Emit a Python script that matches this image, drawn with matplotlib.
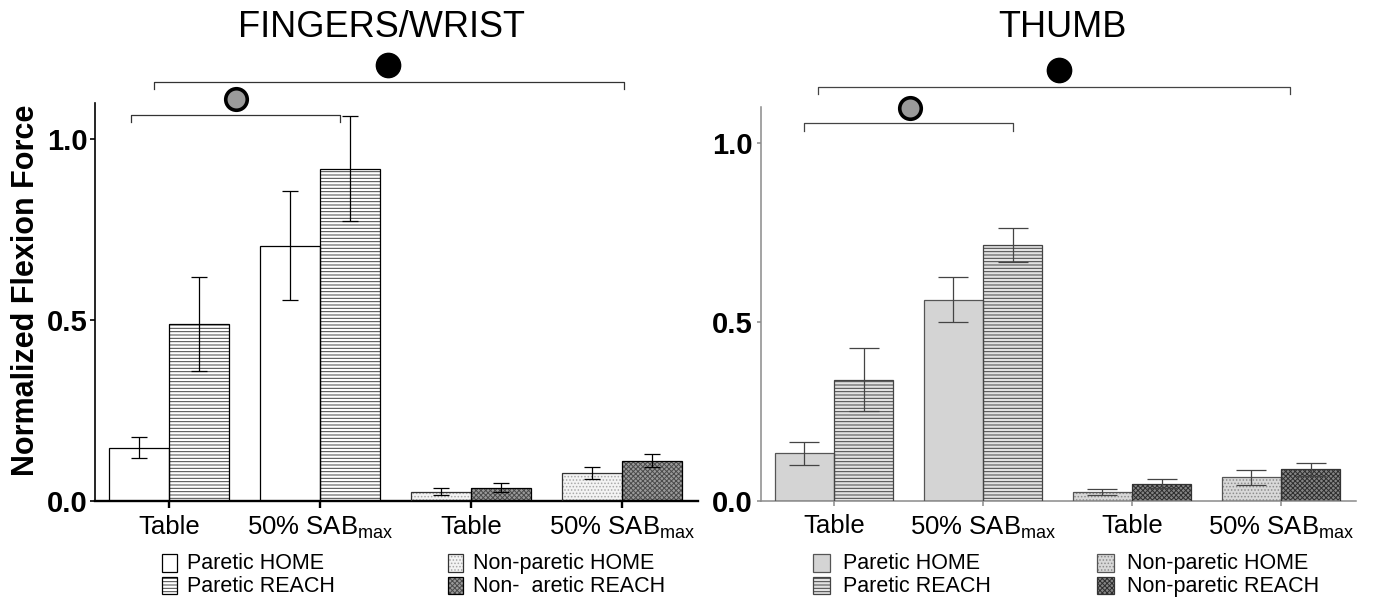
import matplotlib
matplotlib.use("Agg")
import matplotlib.pyplot as plt
from matplotlib.patches import Rectangle
import numpy as np

plt.rcParams['font.family'] = ['Liberation Sans', 'DejaVu Sans']
plt.rcParams['mathtext.fontset'] = 'custom'
plt.rcParams['mathtext.rm'] = 'Liberation Sans'
plt.rcParams['mathtext.it'] = 'Liberation Sans:italic'
plt.rcParams['mathtext.bf'] = 'Liberation Sans:bold'
plt.rcParams['hatch.linewidth'] = 0.7

# ---------------- data ----------------
conditions = ["Table", "50% SAB$_{\\mathrm{max}}$"]
group_labels = conditions + conditions          # paretic groups, then non-paretic groups
panel_titles = ["FINGERS/WRIST", "THUMB"]
yticks = [0.0, 0.5, 1.0]
ytick_labels = ["0.0", "0.5", "1.0"]
legend_fw = ["Paretic HOME", "Paretic REACH", "Non-paretic HOME", "Non-  aretic REACH"]
legend_th = ["Paretic HOME", "Paretic REACH", "Non-paretic HOME", "Non-paretic REACH"]

# FINGERS/WRIST (Table, 50% SABmax)
fw_paretic_home = [0.147, 0.705]
fw_paretic_home_err = [0.028, 0.151]
fw_paretic_reach = [0.489, 0.918]
fw_paretic_reach_err = [0.130, 0.145]
fw_nonparetic_home = [0.025, 0.076]
fw_nonparetic_home_err = [0.010, 0.016]
fw_nonparetic_reach = [0.036, 0.111]
fw_nonparetic_reach_err = [0.013, 0.017]

# THUMB (Table, 50% SABmax)
th_paretic_home = [0.132, 0.562]
th_paretic_home_err = [0.031, 0.064]
th_paretic_reach = [0.338, 0.715]
th_paretic_reach_err = [0.088, 0.048]
th_nonparetic_home = [0.024, 0.065]
th_nonparetic_home_err = [0.009, 0.020]
th_nonparetic_reach = [0.048, 0.088]
th_nonparetic_reach_err = [0.012, 0.018]

W, H = 1387, 598
fig = plt.figure(figsize=(W / 100, H / 100), dpi=100)


def fx(px):
    return px / W


def fy(py):
    return 1 - py / H


styles_fw = [
    dict(face='white', hatch=None, hcol='black', edge='black'),
    dict(face='white', hatch='-----', hcol='#444444', edge='black'),
    dict(face='#f3f3f3', hatch='.....', hcol='#a8a8a8', edge='#333333'),
    dict(face='#9a9a9a', hatch='xxxxxxx', hcol='#4a4a4a', edge='black'),
]
styles_th = [
    dict(face='#d4d4d4', hatch=None, hcol='#555555', edge='#555555'),
    dict(face='#e2e2e2', hatch='-----', hcol='#444444', edge='#444444'),
    dict(face='#d8d8d8', hatch='.....', hcol='#8c8c8c', edge='#555555'),
    dict(face='#858585', hatch='xxxxxxx', hcol='#2e2e2e', edge='#333333'),
]


def draw_bars(ax, pos, vals, errs, st, lw, ecol, capsize):
    ax.bar(pos, vals, 0.397, color=st['face'], edgecolor=st['hcol'],
           hatch=st['hatch'], linewidth=0, zorder=2)
    ax.bar(pos, vals, 0.397, fill=False, edgecolor=st['edge'], linewidth=lw, zorder=3)
    ax.errorbar(pos, vals, yerr=errs, fmt='none', ecolor=ecol, elinewidth=0.9,
                capsize=capsize, capthick=0.9, zorder=4)


def panel(rect, title, title_x, data, styles, spine_col, spine_lw, bottom_lw,
          xtick_len, ytick_len, ecol, capsize, xpad, ypad, brackets, circles, bcol):
    ax = fig.add_axes(rect)
    x = np.arange(len(group_labels))
    par = x[:2]
    nonpar = x[2:]
    (ph, phe), (pr, pre), (nh, nhe), (nr, nre) = data
    draw_bars(ax, par - 0.2, ph, phe, styles[0], 0.9, ecol, capsize)
    draw_bars(ax, par + 0.2, pr, pre, styles[1], 0.9, ecol, capsize)
    draw_bars(ax, nonpar - 0.2, nh, nhe, styles[2], 0.9, ecol, capsize)
    draw_bars(ax, nonpar + 0.2, nr, nre, styles[3], 0.9, ecol, capsize)
    ax.set_xlim(-0.49, 3.503)
    ax.set_ylim(0, 1.10)
    ax.set_xticks(x)
    ax.set_xticklabels(group_labels, fontsize=18.5)
    ax.set_yticks(yticks)
    ax.set_yticklabels(ytick_labels, fontsize=21, fontweight='bold')
    for s in ['top', 'right']:
        ax.spines[s].set_visible(False)
    ax.spines['left'].set_color(spine_col)
    ax.spines['bottom'].set_color(spine_col)
    ax.spines['left'].set_linewidth(spine_lw)
    ax.spines['bottom'].set_linewidth(bottom_lw)
    ax.tick_params(axis='x', length=xtick_len, width=bottom_lw, color=spine_col, pad=xpad)
    ax.tick_params(axis='y', length=ytick_len, width=spine_lw, color=spine_col, pad=ypad)
    for (x1, x2, ytop, yend) in brackets:
        ax.plot([x1, x1, x2, x2], [yend, ytop, ytop, yend], color=bcol, lw=0.9,
                clip_on=False, zorder=5)
    for (cx, cy, fc, ms, mew) in circles:
        ax.plot([cx], [cy], marker='o', markersize=ms, markerfacecolor=fc,
                markeredgecolor='black', markeredgewidth=mew, clip_on=False,
                linestyle='none', zorder=6)
    fig.text(fx(title_x), fy(37), title, fontsize=26, ha='center', va='baseline')
    return ax


# left panel: x 95..698 px, y 103..500.7 px
ax1 = panel([fx(95), 1 - 500.7 / H, 603 / W, 397.7 / H], panel_titles[0], 381.5,
            [(fw_paretic_home, fw_paretic_home_err), (fw_paretic_reach, fw_paretic_reach_err),
             (fw_nonparetic_home, fw_nonparetic_home_err), (fw_nonparetic_reach, fw_nonparetic_reach_err)],
            styles_fw, 'black', 1.2, 1.7, 5, 3.6, 'black', 5.8, 5, 1.5,
            brackets=[(-0.254, 1.132, 1.067, 1.048), (-0.102, 3.011, 1.159, 1.140)],
            circles=[(0.443, 1.110, '#9a9a9a', 15.5, 2.6), (1.449, 1.205, 'black', 17.5, 1.0)],
            bcol='#333333')

# right panel: x 761..1356 px, y 107..500.7 px
ax2 = panel([fx(761), 1 - 500.7 / H, 595 / W, 393.7 / H], panel_titles[1], 1062,
            [(th_paretic_home, th_paretic_home_err), (th_paretic_reach, th_paretic_reach_err),
             (th_nonparetic_home, th_nonparetic_home_err), (th_nonparetic_reach, th_nonparetic_reach_err)],
            styles_th, '#8a8a8a', 1.1, 1.1, 3.8, 3, '#444444', 10.8, 6, 3,
            brackets=[(-0.204, 1.204, 1.055, 1.034), (-0.105, 3.06, 1.156, 1.136)],
            circles=[(0.509, 1.098, '#9a9a9a', 15.5, 2.6), (1.513, 1.204, 'black', 17.5, 1.0)],
            bcol='#444444')

# y label
fig.text(fx(26), fy(290), "Normalized Flexion Force", rotation=90, fontsize=22,
         fontweight='bold', ha='center', va='center')


# legends (drawn as swatches + text)
def legend(labels, styles, col_x, text_dx, box_w):
    rows = [(554, 571.5), (576.5, 594)]
    for i, (lab, st) in enumerate(zip(labels, styles)):
        col = i // 2
        r = i % 2
        y0, y1 = rows[r]
        bx = col_x[col]
        rect = Rectangle((fx(bx), fy(y1)), box_w / W, (y1 - y0) / H,
                         transform=fig.transFigure, facecolor=st['face'],
                         edgecolor=st['hcol'], hatch=st['hatch'], linewidth=0)
        fig.add_artist(rect)
        rect2 = Rectangle((fx(bx), fy(y1)), box_w / W, (y1 - y0) / H,
                          transform=fig.transFigure, fill=False,
                          edgecolor=st['edge'], linewidth=0.9)
        fig.add_artist(rect2)
        fig.text(fx(bx + text_dx), fy((y0 + y1) / 2 + 1), lab, fontsize=15.5,
                 ha='left', va='center')


legend(legend_fw, styles_fw, [162, 448], 25, 15)
legend(legend_th, styles_th, [813, 1097], 30, 17)

fig.savefig("out.png", dpi=100)
